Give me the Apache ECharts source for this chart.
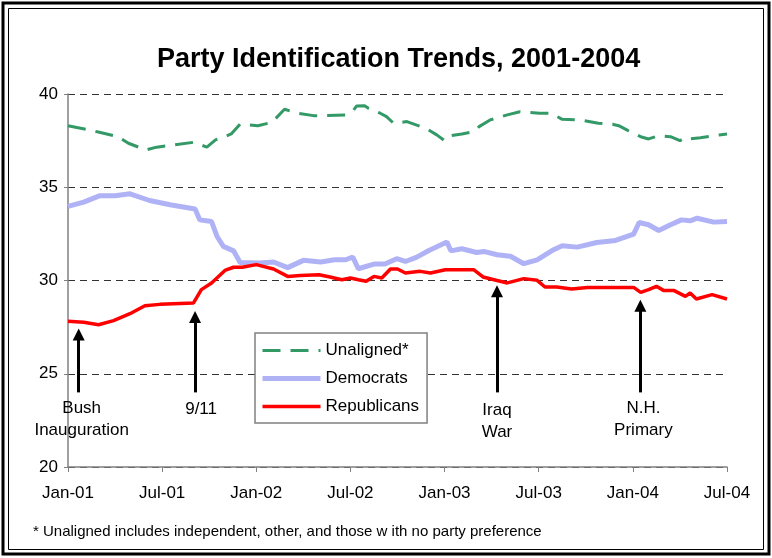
<!DOCTYPE html>
<html><head><meta charset="utf-8">
<script src="https://cdn.jsdelivr.net/npm/echarts@6/dist/echarts.min.js"></script>
<style>html,body{margin:0;padding:0;background:#fff}#c{width:772px;height:558px}</style>
</head><body><div id="c"></div>
<script>
// x = months since Jan 2001
const xTickLabels = ['Jan-01','Jul-01','Jan-02','Jul-02','Jan-03','Jul-03','Jan-04','Jul-04'];
const yTicks = [20, 25, 30, 35, 40];

const unaligned = [[0,38.3],[1.15,38.11],[2.0,37.95],[3.2,37.71],[3.85,37.36],[4.97,37.0],[5.65,37.15],[6.8,37.27],[8.0,37.41],[8.85,37.15],[9.4,37.54],[9.9,37.68],[10.4,37.86],[10.97,38.39],[12.1,38.30],[13.0,38.48],[13.8,39.18],[14.6,38.97],[15.65,38.84],[16.5,38.84],[17.7,38.88],[18.2,39.14],[18.4,39.36],[18.9,39.37],[19.15,39.23],[19.9,38.97],[20.3,38.79],[20.75,38.43],[21.6,38.52],[22.8,38.16],[23.5,37.81],[24.0,37.5],[24.4,37.77],[25.1,37.86],[25.85,37.98],[26.2,38.25],[26.9,38.61],[28.0,38.88],[28.8,39.05],[30.05,38.97],[30.8,38.97],[31.5,38.64],[32.65,38.61],[33.8,38.43],[34.7,38.38],[35.1,38.30],[35.7,38.04],[36.5,37.71],[37.0,37.59],[37.65,37.77],[38.4,37.71],[39.0,37.5],[39.35,37.66],[39.55,37.59],[40.3,37.66],[41.5,37.8],[42,37.85]];

const democrats = [[0,33.97],[1.0,34.2],[2.0,34.54],[3.0,34.54],[3.95,34.65],[5.2,34.29],[6.5,34.06],[8.1,33.83],[8.4,33.25],[9.15,33.16],[9.5,32.36],[9.9,31.83],[10.55,31.59],[10.97,30.97],[12.25,30.94],[13.1,30.99],[14.0,30.69],[15.0,31.08],[16.1,30.99],[17.0,31.11],[17.7,31.11],[18.15,31.26],[18.5,30.63],[19.5,30.88],[20.2,30.88],[20.95,31.17],[21.5,31.02],[22.2,31.24],[23.0,31.61],[24.15,32.06],[24.4,31.59],[25.1,31.70],[26.05,31.50],[26.5,31.56],[27.35,31.38],[28.2,31.3],[29.05,30.9],[29.9,31.11],[30.95,31.65],[31.5,31.86],[32.45,31.79],[33.7,32.04],[34.9,32.15],[36.05,32.49],[36.4,33.11],[37.0,32.99],[37.65,32.68],[38.4,32.99],[39.1,33.25],[39.65,33.2],[40.1,33.34],[41.15,33.13],[42,33.16]];

const republicans = [[0,27.81],[1.0,27.76],[1.95,27.63],[2.9,27.85],[3.95,28.22],[4.9,28.65],[5.85,28.72],[8.0,28.8],[8.5,29.51],[9.15,29.87],[10.0,30.54],[10.55,30.71],[11.1,30.71],[12.0,30.85],[13.1,30.62],[14.0,30.22],[14.8,30.27],[16.0,30.31],[16.7,30.19],[17.45,30.04],[18.0,30.13],[18.5,30.04],[19.0,29.96],[19.5,30.22],[20.0,30.13],[20.55,30.62],[21.0,30.62],[21.5,30.4],[22.45,30.49],[23.1,30.4],[24.05,30.58],[25.85,30.58],[26.45,30.19],[27.35,30.0],[28.0,29.87],[29.05,30.1],[29.9,30.01],[30.4,29.65],[31.15,29.65],[32.1,29.54],[33.1,29.63],[36.05,29.63],[36.5,29.36],[37.0,29.51],[37.5,29.69],[37.95,29.47],[38.6,29.47],[39.35,29.15],[39.65,29.33],[40.05,29.01],[41.05,29.24],[42,29.01]];

const eventNames = ['Bush\nInauguration', '9/11', 'Iraq\nWar', 'N.H.\nPrimary'];
const eventMonths = [0.68, 8.1, 27.34, 36.48];
const eventHeads = [27.1, 28.04, 29.43, 28.64];
const eventBase = 24.0;
const eventOffsets = [[3,-1],[6,0],[0,1],[3,-1]];

const FONT = 'Liberation Sans, Arial, sans-serif';
const chart = echarts.init(document.getElementById('c'), null, {renderer:'canvas'});

const markData = eventNames.map((n, i) => [
  {coord:[eventMonths[i], eventBase], name:n, label:{offset:eventOffsets[i]}},
  {coord:[eventMonths[i], eventHeads[i]]}
]);

chart.setOption({
  animation:false,
  backgroundColor:'#fff',
  title:{
    text:'Party Identification Trends, 2001-2004',
    left:152, top:41,
    textStyle:{fontFamily:FONT, fontSize:27, fontWeight:'bold', color:'#000'}
  },
  grid:{left:68, right:45, top:94, bottom:91, containLabel:false},
  legend:{
    orient:'vertical', left:255, top:333,
    data:[
      {name:'Unaligned*', lineStyle:{width:3}},
      {name:'Democrats', lineStyle:{width:5}},
      {name:'Republicans', lineStyle:{width:3.5}}
    ],
    itemWidth:58, itemHeight:14, itemGap:11,
    padding:[9,8,8,5],
    itemStyle:{opacity:0},
    backgroundColor:'#fff', borderColor:'#808080', borderWidth:1.5,
    textStyle:{fontFamily:FONT, fontSize:17, color:'#000'}
  },
  xAxis:{
    type:'value', min:0, max:42, interval:6,
    axisLine:{lineStyle:{color:'#808080', width:1.5}},
    axisTick:{show:true, length:5, lineStyle:{color:'#808080'}},
    splitLine:{show:false},
    axisLabel:{margin:18, fontFamily:FONT, fontSize:17, color:'#000',
      formatter:v => xTickLabels[Math.round(v/6)]}
  },
  yAxis:{
    type:'value', min:yTicks[0], max:yTicks[yTicks.length-1], interval:5,
    axisLine:{show:true, lineStyle:{color:'#808080', width:1.5}},
    axisTick:{show:true, length:4, lineStyle:{color:'#808080'}},
    splitLine:{show:true, lineStyle:{color:'#333', type:[7,5], width:1}},
    axisLabel:{margin:10, fontFamily:FONT, fontSize:17, color:'#000'}
  },
  series:[
    {name:'Unaligned*', type:'line', data:unaligned, symbol:'none', smooth:false,
     color:'#339966', lineStyle:{color:'#339966', width:3, type:[18,10]}, z:3},
    {name:'Democrats', type:'line', data:democrats, symbol:'none', smooth:false,
     color:'#b0b2f6', lineStyle:{color:'#b0b2f6', width:5}, z:2},
    {name:'Republicans', type:'line', data:republicans, symbol:'none', smooth:false,
     color:'#ff0000', lineStyle:{color:'#ff0000', width:3.5}, z:4,
     markLine:{
       silent:true, animation:false,
       symbol:['none','triangle'], symbolSize:[12,12],
       lineStyle:{color:'#000', width:3, type:'solid'},
       itemStyle:{color:'#000'},
       label:{show:true, position:'start', distance:6, formatter:p => p.name,
         fontFamily:FONT, fontSize:17, color:'#000', lineHeight:22, align:'center'},
       emphasis:{disabled:true},
       data:markData
     }}
  ],
  graphic:[
    {type:'rect', shape:{x:3, y:3, width:766, height:551}, style:{fill:null, stroke:'#000', lineWidth:3}, silent:true},
    {type:'rect', shape:{x:8.5, y:8.5, width:755, height:541}, style:{fill:null, stroke:'#000', lineWidth:1}, silent:true},
    {type:'text', left:33, top:524, style:{text:'* Unaligned includes independent, other, and those w ith no party preference',
      font:'15px Liberation Sans, Arial, sans-serif', fill:'#000'}}
  ]
});
</script></body></html>
